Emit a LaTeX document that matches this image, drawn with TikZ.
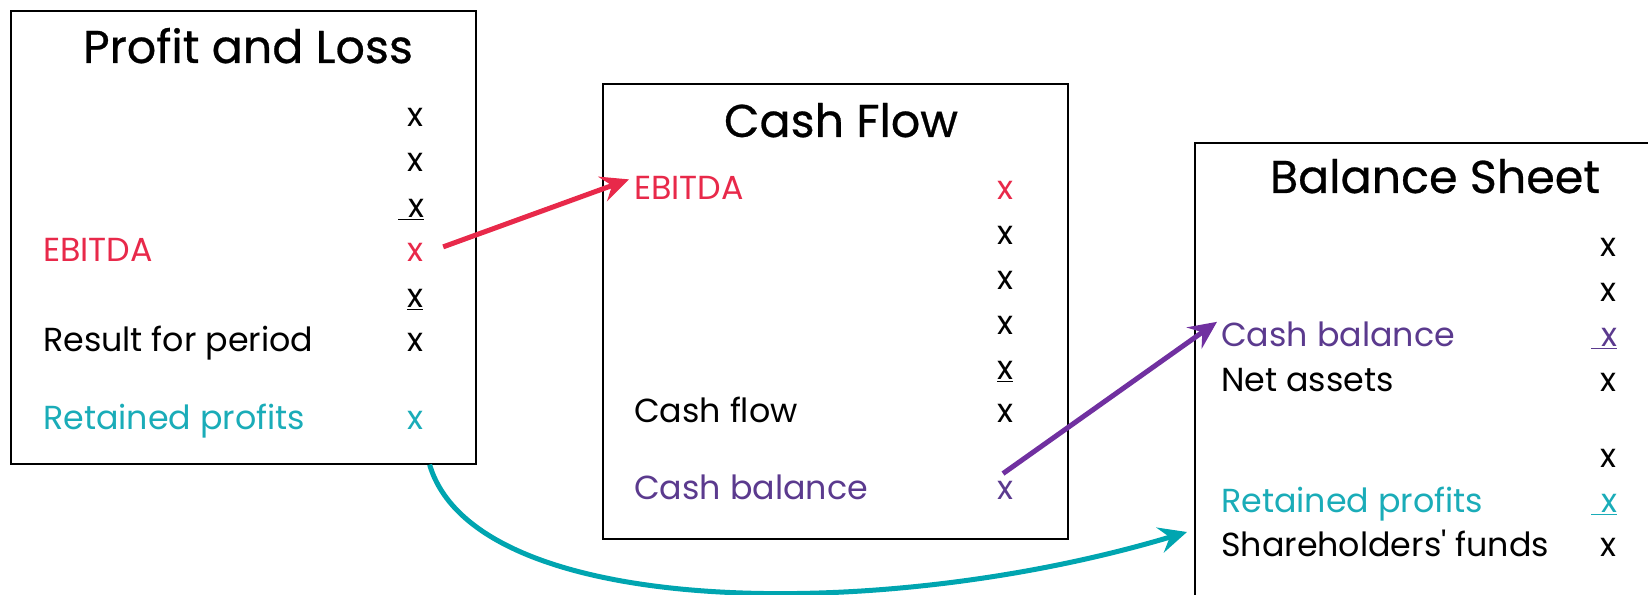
\documentclass[tikz,border=0pt]{standalone}
\usepackage{fontspec}
\setmainfont{Poppins}
\newfontfamily\titlefont{Poppins}[FakeBold=0.6]
\usetikzlibrary{arrows.meta,calc}
\definecolor{ebred}{HTML}{E8294A}
\definecolor{cbpurple}{HTML}{5B3A8E}
\definecolor{arpurple}{HTML}{7030A0}
\definecolor{rpteal}{HTML}{1AACB8}
\definecolor{arteal}{HTML}{00A5B0}
\newcommand{\ulx}{\underline{x}}
\newcommand{\ulsx}{\underline{\kern10pt x}}
\tikzset{
  panel/.style={draw=black, line width=1.6pt, anchor=north west, inner sep=0pt},
  ttl/.style={anchor=base, inner sep=0pt, font=\titlefont\fontsize{46}{52}\selectfont},
  lbl/.style={anchor=base west, inner sep=0pt, font=\fontsize{33.3}{38}\selectfont},
  val/.style={anchor=base, inner sep=0pt, font=\fontsize{33.3}{38}\selectfont},
  flow/.style={line width=5pt, -{Stealth[length=28pt,width=26pt,inset=10pt]}}
}
\begin{document}
\begin{tikzpicture}[x=1pt,y=1pt]
\useasboundingbox (0,0) rectangle (1648,594);
\clip (0,0) rectangle (1648,594);
% panels
\node[panel, minimum width=465pt, minimum height=453pt] (pl) at (10,584) {};
\node[panel, minimum width=465pt, minimum height=455pt] (cf) at (602,511) {};
\node[panel, minimum width=520pt, minimum height=520pt] (bs) at (1194,452) {};
% Profit and Loss
\node[ttl] (plt) at (248,531) {Profit and Loss};
\node[val] (plx1) at (415,467) {x};
\node[val] (plx2) at (415,422) {x};
\node[val] (plx3) at (411,376) {\ulsx};
\node[lbl, text=ebred] (pleb) at (43,332) {EBITDA};
\node[val, text=ebred] (plex) at (415,332) {x};
\node[val] (plx5) at (415,286) {\ulx};
\node[lbl] (plres) at (43,242) {Result for period};
\node[val] (plresx) at (415,242) {x};
\node[lbl, text=rpteal] (plrp) at (43,164) {Retained profits};
\node[val, text=rpteal] (plrpx) at (415,164) {x};
% Cash Flow
\node[ttl] (cft) at (841,457) {Cash Flow};
\node[lbl, text=ebred] (cfeb) at (634,394) {EBITDA};
\node[val, text=ebred] (cfebx) at (1005,394) {x};
\node[val] (cfx2) at (1005,349) {x};
\node[val] (cfx3) at (1005,304) {x};
\node[val] (cfx4) at (1005,259) {x};
\node[val] (cfx5) at (1005,214) {\ulx};
\node[lbl] (cfcf) at (634,171) {Cash flow};
\node[val] (cfcfx) at (1005,171) {x};
\node[lbl, text=cbpurple] (cfcb) at (634,94) {Cash balance};
\node[val, text=cbpurple] (cfcbx) at (1005,94) {x};
% Balance Sheet
\node[ttl] (bst) at (1435,401) {Balance Sheet};
\node[val] (bsx1) at (1608,337) {x};
\node[val] (bsx2) at (1608,292) {x};
\node[lbl, text=cbpurple] (bscb) at (1221,247) {Cash balance};
\node[val, text=cbpurple] (bscbx) at (1604,247) {\ulsx};
\node[lbl] (bsna) at (1221,202) {Net assets};
\node[val] (bsnax) at (1608,202) {x};
\node[val] (bsx5) at (1608,126) {x};
\node[lbl, text=rpteal] (bsrp) at (1221,81) {Retained profits};
\node[val, text=rpteal] (bsrpx) at (1604,81) {\ulsx};
\node[lbl] (bssf) at (1221,37) {Shareholders\textquotesingle\ funds};
\node[val] (bssfx) at (1608,37) {x};
% connectors
\coordinate (tealEnd) at (1187,62);
\draw[flow, ebred] ($(plex.east)+(20,6)$) -- ($(cfeb.west)+(-5,9)$);
\draw[flow, arpurple] ($(cfcbx.north)+(-2,8)$) -- ($(bscb.west)+(-4,13)$);
\draw[flow, arteal] ($(pl.south east)+(-47,0)$) .. controls (475,-25) and (880,-30) .. (tealEnd);
\end{tikzpicture}
\end{document}
